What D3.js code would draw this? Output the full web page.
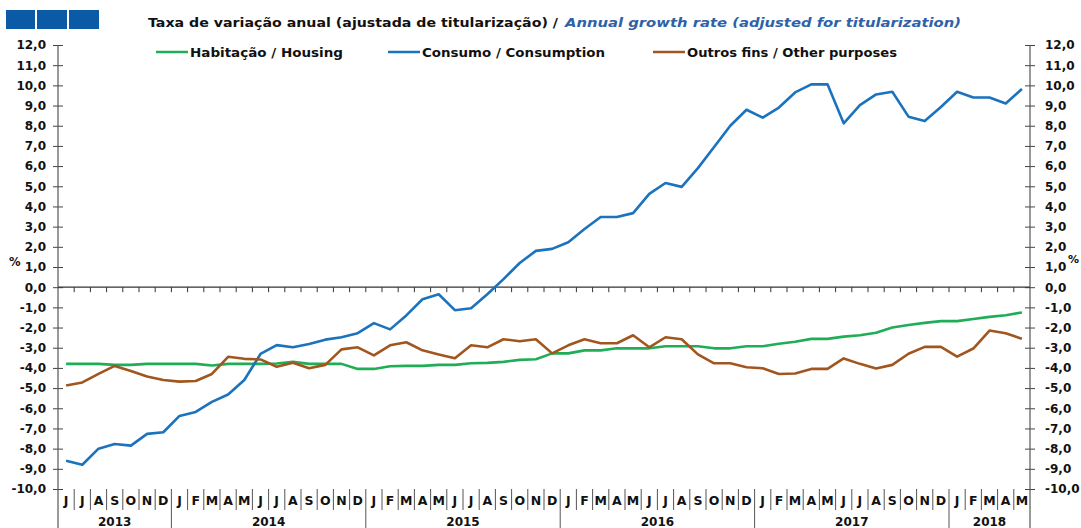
<!DOCTYPE html>
<html><head><meta charset="utf-8">
<script src="https://cdn.jsdelivr.net/npm/d3@7"></script>
<style>
html,body{margin:0;padding:0;background:#fff;}
svg{display:block;}
text{font-family:"DejaVu Sans",Arial,sans-serif;font-weight:bold;}
</style></head>
<body>
<svg id="chart" width="1081" height="528"></svg>
<script>
const months = ["J","J","A","S","O","N","D",
  "J","F","M","A","M","J","J","A","S","O","N","D",
  "J","F","M","A","M","J","J","A","S","O","N","D",
  "J","F","M","A","M","J","J","A","S","O","N","D",
  "J","F","M","A","M","J","J","A","S","O","N","D",
  "J","F","M","A","M"];
const years = ["2013","2014","2015","2016","2017","2018"];
const monthsInYear = [7,12,12,12,12,5];

const habitacao = [-3.8,-3.8,-3.8,-3.85,-3.85,-3.8,-3.8,-3.8,-3.8,-3.88,-3.8,-3.8,-3.8,-3.78,-3.7,-3.8,-3.8,-3.8,-4.05,-4.05,
  -3.92,-3.9,-3.9,-3.85,-3.85,-3.77,-3.75,-3.7,-3.6,-3.57,-3.28,-3.28,-3.13,-3.13,-3.03,-3.03,-3.03,-2.93,-2.93,-2.93,
  -3.03,-3.03,-2.93,-2.93,-2.8,-2.7,-2.56,-2.56,-2.45,-2.38,-2.26,-2.0,-1.87,-1.77,-1.68,-1.68,-1.58,-1.47,-1.39,-1.25];
const consumo = [-8.6,-8.8,-8.0,-7.77,-7.85,-7.27,-7.19,-6.38,-6.18,-5.68,-5.32,-4.6,-3.31,-2.87,-2.98,-2.82,-2.6,-2.48,-2.28,-1.78,
  -2.09,-1.4,-0.6,-0.35,-1.14,-1.04,-0.35,0.4,1.2,1.8,1.9,2.23,2.88,3.48,3.48,3.67,4.62,5.16,4.97,5.9,
  6.95,8.0,8.79,8.4,8.9,9.65,10.05,10.05,8.12,9.02,9.55,9.68,8.45,8.23,8.93,9.68,9.4,9.4,9.1,9.82];
const outros = [-4.87,-4.72,-4.3,-3.9,-4.15,-4.43,-4.6,-4.68,-4.65,-4.3,-3.45,-3.55,-3.58,-3.94,-3.74,-4.02,-3.85,-3.08,-2.98,-3.38,
  -2.88,-2.73,-3.13,-3.33,-3.52,-2.88,-2.98,-2.58,-2.68,-2.58,-3.28,-2.88,-2.58,-2.78,-2.78,-2.38,-2.98,-2.48,-2.58,-3.33,
  -3.77,-3.77,-3.97,-4.02,-4.3,-4.28,-4.05,-4.05,-3.53,-3.8,-4.03,-3.85,-3.3,-2.96,-2.96,-3.44,-3.04,-2.15,-2.28,-2.56];

const seriesNames = ["Habitação / Housing","Consumo / Consumption","Outros fins / Other purposes"];
const seriesColors = ["#1fae57","#1b72bd","#a2561f"];
const yTicks = d3.range(-10, 13, 1);

const svg = d3.select("#chart");
const L = 58, R = 1030, T = 45, B = 489;
const x = d3.scaleBand().domain(d3.range(months.length)).range([L, R]).padding(0);
const bw = x.bandwidth();
const cx = i => x(i) + bw/2;
const y = d3.scaleLinear().domain([-10, 12]).range([B, T]);
const fmt = d => d.toFixed(1).replace(".", ",");

// header squares
[[6,10,29,19],[37,10,30,19],[69,10,30,19]].forEach(r=>{
  svg.append("rect").attr("x",r[0]).attr("y",r[1]).attr("width",r[2]).attr("height",r[3]).attr("fill","#0b5aa5");
});

// title
svg.append("text").attr("x",148).attr("y",27).attr("font-size",13)
  .attr("textLength",410).attr("lengthAdjust","spacingAndGlyphs")
  .attr("fill","#111").text("Taxa de variação anual (ajustada de titularização) /");
svg.append("text").attr("x",565).attr("y",27).attr("font-size",13)
  .attr("textLength",396).attr("lengthAdjust","spacingAndGlyphs")
  .attr("fill","#2d62a8").attr("font-style","italic").text("Annual growth rate (adjusted for titularization)");

// legend
const legX = [156, 388, 653];
const legW = [153, 183, 210];
seriesNames.forEach((n,i)=>{
  svg.append("line").attr("x1",legX[i]).attr("x2",legX[i]+32).attr("y1",52).attr("y2",52)
    .attr("stroke",seriesColors[i]).attr("stroke-width",2.5);
  svg.append("text").attr("x",legX[i]+34).attr("y",57).attr("font-size",13)
    .attr("textLength",legW[i]).attr("lengthAdjust","spacingAndGlyphs")
    .attr("fill","#111").text(n);
});

// left axis
const axL = d3.axisLeft(y).tickValues(yTicks).tickFormat(fmt).tickSize(5).tickPadding(7);
const gL = svg.append("g").attr("transform",`translate(${L},0)`).call(axL);
gL.select(".domain").remove();
gL.selectAll(".tick line").attr("x1",5).attr("stroke","#444");
gL.selectAll(".tick text").attr("font-size",12).attr("fill","#111").style("font-family","DejaVu Sans").style("font-weight","bold");
// right axis
const axR = d3.axisRight(y).tickValues(yTicks).tickFormat(fmt).tickSize(5).tickPadding(10);
const gR = svg.append("g").attr("transform",`translate(${R},0)`).call(axR);
gR.select(".domain").remove();
gR.selectAll(".tick line").attr("x1",-5).attr("stroke","#444");
gR.selectAll(".tick text").attr("font-size",12).attr("fill","#111").style("font-family","DejaVu Sans").style("font-weight","bold");

svg.append("line").attr("x1",L).attr("x2",L).attr("y1",T).attr("y2",528).attr("stroke","#555").attr("stroke-width",1.2);
svg.append("line").attr("x1",R).attr("x2",R).attr("y1",T).attr("y2",528).attr("stroke","#555").attr("stroke-width",1.2);

// % labels
svg.append("text").attr("x",9).attr("y",y(1)-1).attr("font-size",11.5).attr("fill","#111").text("%");
svg.append("text").attr("x",1068).attr("y",y(1)-4).attr("font-size",11).attr("fill","#111").text("%");

// zero line with ticks
svg.append("line").attr("x1",L).attr("x2",R).attr("y1",y(0)).attr("y2",y(0)).attr("stroke","#333").attr("stroke-width",1.2);
d3.range(1, months.length).forEach(i=>{
  svg.append("line").attr("x1",x(i)).attr("x2",x(i)).attr("y1",y(0)).attr("y2",y(0)+5).attr("stroke","#333");
});

// month labels and separators
const yearStart = [];
let acc = 0;
monthsInYear.forEach(n=>{ yearStart.push(acc); acc += n; });
months.forEach((m,i)=>{
  svg.append("text").attr("x",cx(i)).attr("y",505).attr("text-anchor","middle").attr("font-size",12.5).attr("fill","#111").text(m);
  if (i>0) {
    const isYear = yearStart.includes(i);
    svg.append("line").attr("x1",x(i)).attr("x2",x(i)).attr("y1",489).attr("y2",isYear?528:510).attr("stroke","#555");
  }
});
years.forEach((yr,k)=>{
  const s = yearStart[k], e = s + monthsInYear[k];
  const xm = (x(s) + (e < months.length ? x(e) : R))/2;
  svg.append("text").attr("x",xm).attr("y",526).attr("text-anchor","middle").attr("font-size",12).attr("fill","#111").text(yr);
});

// lines
const line = d3.line().x((d,i)=>cx(i)).y(d=>y(d));
[habitacao, consumo, outros].forEach((s,k)=>{
  svg.append("path").datum(s).attr("d",line).attr("fill","none").attr("stroke",seriesColors[k])
    .attr("stroke-width",2.6).attr("stroke-linejoin","round");
});
</script>
</body></html>
